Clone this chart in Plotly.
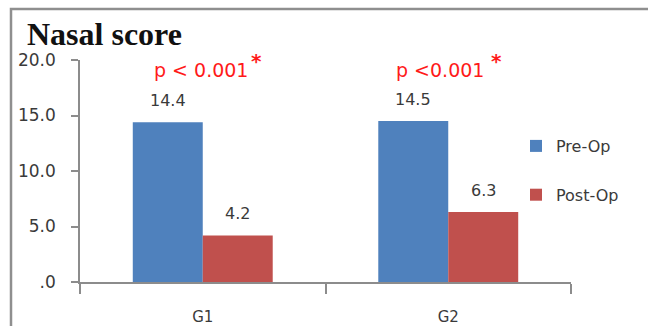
import plotly.graph_objects as go

# Data
groups = ["G1", "G2"]
pre_op = [14.4, 14.5]
post_op = [4.2, 6.3]
p_labels = ["p < 0.001", "p <0.001"]
y_ticks = [0, 5, 10, 15, 20]
y_tick_text = [".0", "5.0", "10.0", "15.0", "20.0"]

W, H = 648, 326
ML, MR, MT, MB = 80, 77, 60, 44
PW, PH = W - ML - MR, H - MT - MB

BLUE = "#4F81BD"
RED = "#C0504D"
TXT = "#3a3a3a"
AX = "#8c8c8c"
FONT = "DejaVu Sans"
BARGAP = 0.43

fig = go.Figure()
fig.add_trace(go.Bar(x=groups, y=pre_op, name="Pre-Op", marker_color=BLUE,
                     marker_line_width=0, legendgroup="a"))
fig.add_trace(go.Bar(x=groups, y=post_op, name="Post-Op", marker_color=RED,
                     marker_line_width=0, legendgroup="b"))

# half of one bar's width, in category units, to centre labels over bars
half_bar = (1 - BARGAP) / 4

annotations = []
p_shift = [-2, -8]
for i, g in enumerate(groups):
    # value labels above each bar
    for val, off in ((pre_op[i], -half_bar), (post_op[i], half_bar)):
        annotations.append(dict(
            x=i + off, y=val, xref="x", yref="y",
            text=f"{val:.1f}", showarrow=False, yanchor="middle", yshift=22,
            font=dict(family=FONT, size=16, color=TXT)))
    # significance labels
    annotations.append(dict(
        x=i, y=20, xref="x", yref="y", text=p_labels[i], showarrow=False,
        xanchor="center", yanchor="middle", yshift=-10, xshift=p_shift[i],
        font=dict(family=FONT, size=19, color="#FF1A1A")))
    annotations.append(dict(
        x=i, y=20, xref="x", yref="y", text="<b>*</b>", showarrow=False,
        xanchor="center", yanchor="middle", yshift=-1, xshift=p_shift[i] + 56,
        font=dict(family=FONT, size=20, color="#FF1A1A")))

fig.update_layout(
    width=W, height=H,
    margin=dict(l=ML, r=MR, t=MT, b=MB, pad=0, autoexpand=False),
    paper_bgcolor="white", plot_bgcolor="white",
    barmode="group", bargap=BARGAP, bargroupgap=0,
    title=dict(text="<b>Nasal score</b>", x=27 / W, xanchor="left",
               y=1 - 34 / H, yanchor="middle",
               font=dict(family="Liberation Serif", size=32, color="#111111")),
    legend=dict(x=(535 - ML - 19) / PW, y=1 - (145 - MT - 16) / PH,
                xanchor="left", yanchor="top", traceorder="grouped",
                tracegroupgap=25, itemwidth=30, bgcolor="rgba(0,0,0,0)",
                font=dict(family=FONT, size=16, color=TXT)),
    xaxis=dict(showline=True, linecolor=AX, linewidth=1.5, ticks="outside",
               tickson="boundaries", ticklen=10, tickcolor=AX, tickwidth=1.5,
               showgrid=False, ticklabelstandoff=20, automargin=False,
               tickfont=dict(family=FONT, size=15, color=TXT)),
    yaxis=dict(range=[0, 20], tickvals=y_ticks, ticktext=y_tick_text,
               showline=True, linecolor=AX, linewidth=1.5, ticks="outside",
               ticklen=7, tickcolor=AX, tickwidth=1.5, showgrid=False,
               zeroline=False, ticklabelstandoff=12, automargin=False,
               tickfont=dict(family=FONT, size=17, color=TXT)),
    annotations=annotations,
    shapes=[dict(type="rect", xref="paper", yref="paper",
                 x0=(11 - ML) / PW, x1=(W + 20 - ML) / PW,
                 y0=-(H + 20 - MT - PH) / PH, y1=(H - 9 - MB) / PH,
                 line=dict(color="#8f8f8f", width=2.5), layer="below")],
)

fig.write_html("out.html")
